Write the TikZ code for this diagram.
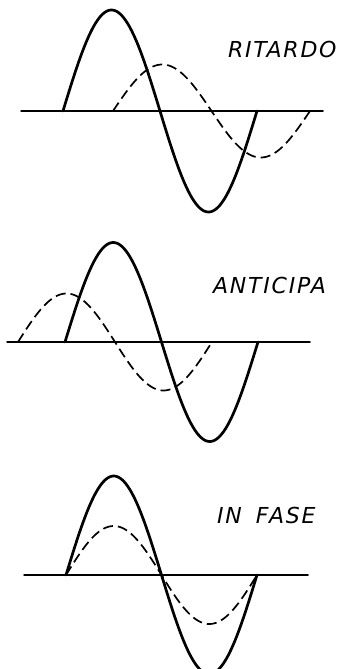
\documentclass[tikz,border=0pt]{standalone}
\usepackage{fontspec}
\newfontfamily\labfont[LetterSpace=8]{DejaVu Sans}
\tikzset{
  axisline/.style={line width=1.5pt, line cap=round},
  solidwave/.style={line width=2.7pt, line cap=round, line join=round},
  dashwave/.style={line width=1.7pt, dash pattern=on 10pt off 5pt},
  lab/.style={anchor=west, inner sep=0pt, font=\labfont\itshape\fontsize{22}{22}\selectfont}
}
\begin{document}
\begin{tikzpicture}[x=1pt,y=-1pt]
\useasboundingbox (0,0) rectangle (343,669);
% ---- panel 1: RITARDO
\draw[axisline] (21,111) -- (323,111);
\draw[solidwave] plot[domain=63:257, samples=120, smooth] (\x, {111 - 101*sin((\x-63)/97*180)});
\draw[dashwave] plot[domain=113:310, samples=120, smooth] (\x, {111 - 46.5*sin((\x-113)/98.5*180)});
\node[lab] (r) at (228,49) {RITARDO};
% ---- panel 2: ANTICIPA
\draw[axisline] (7,342) -- (310,342);
\draw[solidwave] plot[domain=65:258, samples=120, smooth] (\x, {342 - 99.5*sin((\x-65)/96.5*180)});
\draw[dashwave] plot[domain=18:212, samples=120, smooth] (\x, {342 - 48.5*sin((\x-18)/97*180)});
\node[lab] (a) at (213,285) {ANTICIPA};
% ---- panel 3: IN FASE
\draw[axisline] (24,575) -- (308,575);
\draw[solidwave] plot[domain=66:257, samples=120, smooth] (\x, {575 - 99*sin((\x-66)/95.5*180)});
\draw[dashwave] plot[domain=66:257, samples=120, smooth] (\x, {575 - 49*sin((\x-66)/95.5*180)});
\node[lab] (f) at (217,515) {IN\hspace{14pt}FASE};
\end{tikzpicture}
\end{document}
